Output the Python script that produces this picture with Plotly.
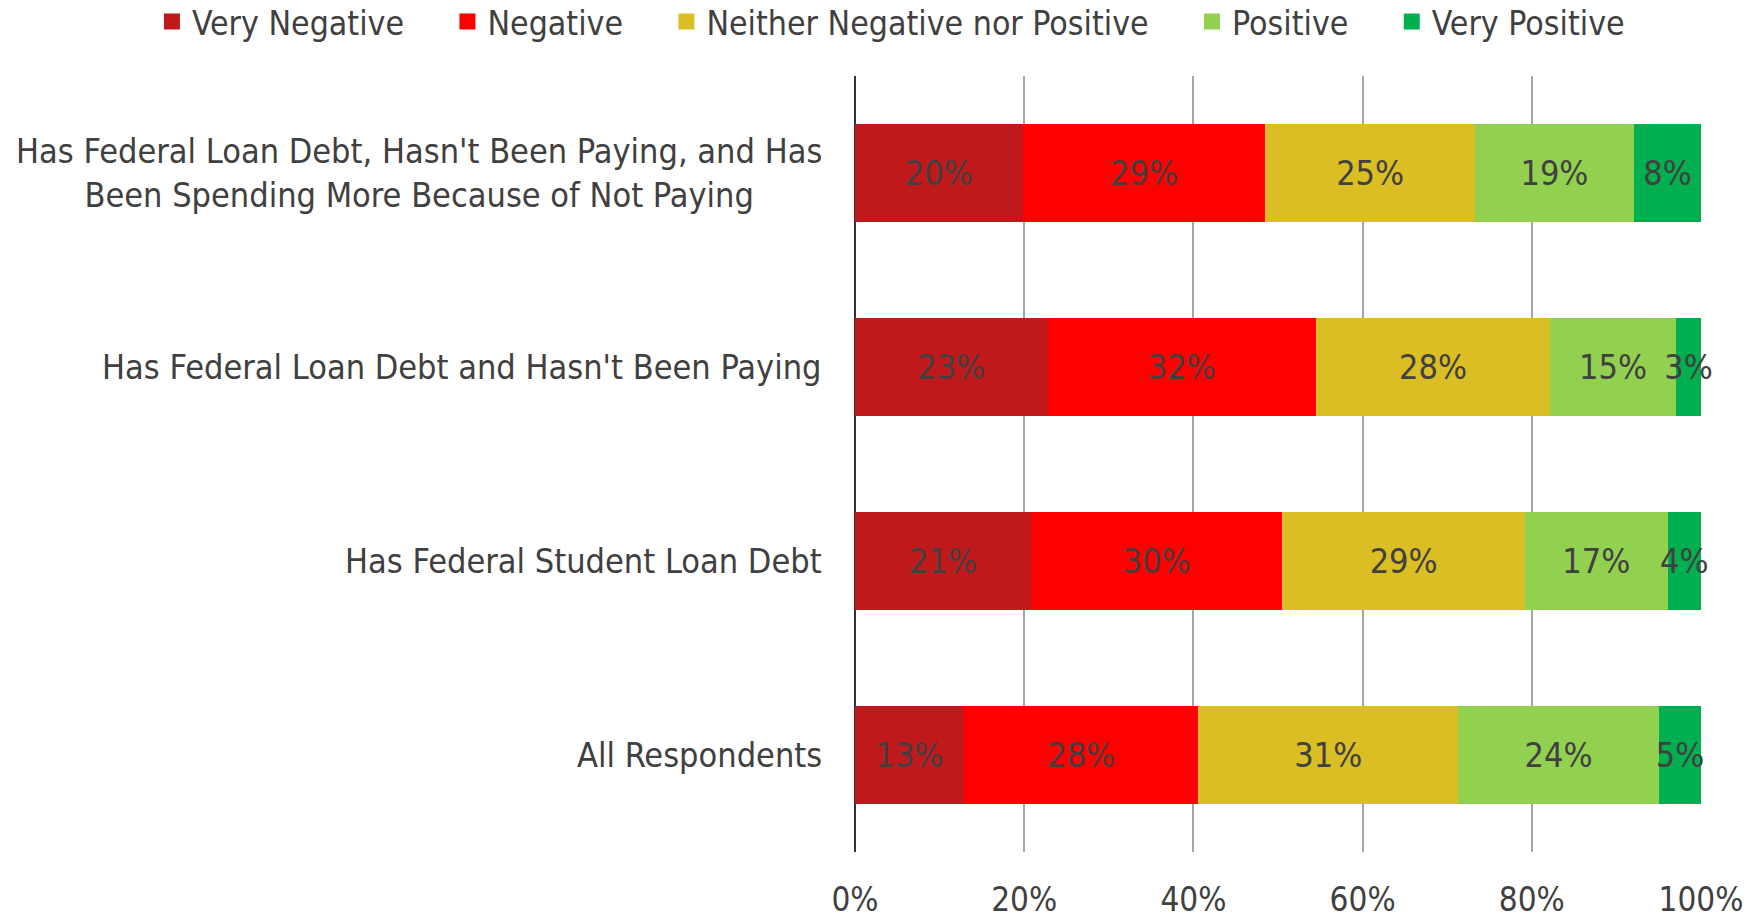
import plotly.graph_objects as go

# Survey groups, top to bottom
categories = [
    "Has Federal Loan Debt, Hasn't Been Paying, and Has<br>Been Spending More Because of Not Paying",
    "Has Federal Loan Debt and Hasn't Been Paying",
    "Has Federal Student Loan Debt",
    "All Respondents",
]

# Share of respondents (%) per sentiment, in the same order as categories
very_negative = [20, 23, 21, 13]
negative = [29, 32, 30, 28]
neither = [25, 28, 29, 31]
positive = [19, 15, 17, 24]
very_positive = [8, 3, 4, 5]

series_names = ["Very Negative", "Negative", "Neither Negative nor Positive",
                "Positive", "Very Positive"]
series_values = [very_negative, negative, neither, positive, very_positive]
series_colors = ["#C0191C", "#FF0000", "#DBBD24", "#92D050", "#00B050"]

x_ticks = [0, 20, 40, 60, 80, 100]
x_tick_labels = ["0%", "20%", "40%", "60%", "80%", "100%"]

FONT = "DejaVu Sans Condensed, Liberation Sans Narrow, DejaVu Sans, sans-serif"
TEXT = "#404040"
LABEL_SIZE = 34
LEGEND_SIZE = 33.6
TICK_SIZE = 33
LEGEND_PAD = "\u00a0" * 4  # extra room between legend entries

fig = go.Figure()
for name, vals, color in zip(series_names, series_values, series_colors):
    fig.add_trace(go.Bar(
        y=categories,
        x=vals,
        name=name,
        orientation="h",
        marker=dict(color=color, line=dict(width=0)),
        text=[f"{v}%" for v in vals],
        textposition="inside",
        insidetextanchor="middle",
        textangle=0,
        textfont=dict(family=FONT, size=LABEL_SIZE, color=TEXT),
        cliponaxis=False,
        hoverinfo="skip",
        showlegend=False,
    ))

# Legend entries with larger square swatches
for name, color in zip(series_names, series_colors):
    fig.add_trace(go.Scatter(
        x=[None], y=[None],
        mode="markers",
        name=name + LEGEND_PAD,
        marker=dict(symbol="square", size=16, color=color),
        hoverinfo="skip",
    ))

# Group labels, centred line by line to the left of the bars
for cat in categories:
    fig.add_annotation(
        x=0, xref="paper", xanchor="right", xshift=-31,
        y=cat, yref="y", yanchor="middle",
        text=cat, showarrow=False, align="center",
        font=dict(family=FONT, size=LABEL_SIZE, color=TEXT),
    )

fig.update_layout(
    width=1762, height=915,
    barmode="stack",
    barnorm="percent",
    bargap=0.49,
    plot_bgcolor="white",
    paper_bgcolor="white",
    margin=dict(l=855, r=61, t=76, b=63, autoexpand=False),
    font=dict(family=FONT, size=TICK_SIZE, color=TEXT),
    uniformtext=dict(minsize=LABEL_SIZE, mode="show"),
    legend=dict(
        orientation="h",
        x=-0.831, xanchor="left", xref="paper",
        y=1.07, yanchor="middle", yref="paper",
        font=dict(family=FONT, size=LEGEND_SIZE, color=TEXT),
        itemsizing="trace",
        itemwidth=30,
        traceorder="normal",
        bgcolor="rgba(0,0,0,0)",
    ),
    showlegend=True,
)

fig.update_xaxes(
    range=[0, 100],
    tickvals=x_ticks,
    ticktext=x_tick_labels,
    showgrid=True,
    gridcolor="#A6A6A6",
    gridwidth=2,
    zeroline=True,
    zerolinecolor="#333333",
    zerolinewidth=2,
    showline=False,
    ticks="",
    ticklabelstandoff=25,
    automargin=False,
    tickfont=dict(family=FONT, size=TICK_SIZE, color=TEXT),
)

fig.update_yaxes(
    autorange="reversed",
    showticklabels=False,
    showgrid=False,
    zeroline=False,
    showline=False,
    ticks="",
    automargin=False,
)

fig.write_html("out.html")
